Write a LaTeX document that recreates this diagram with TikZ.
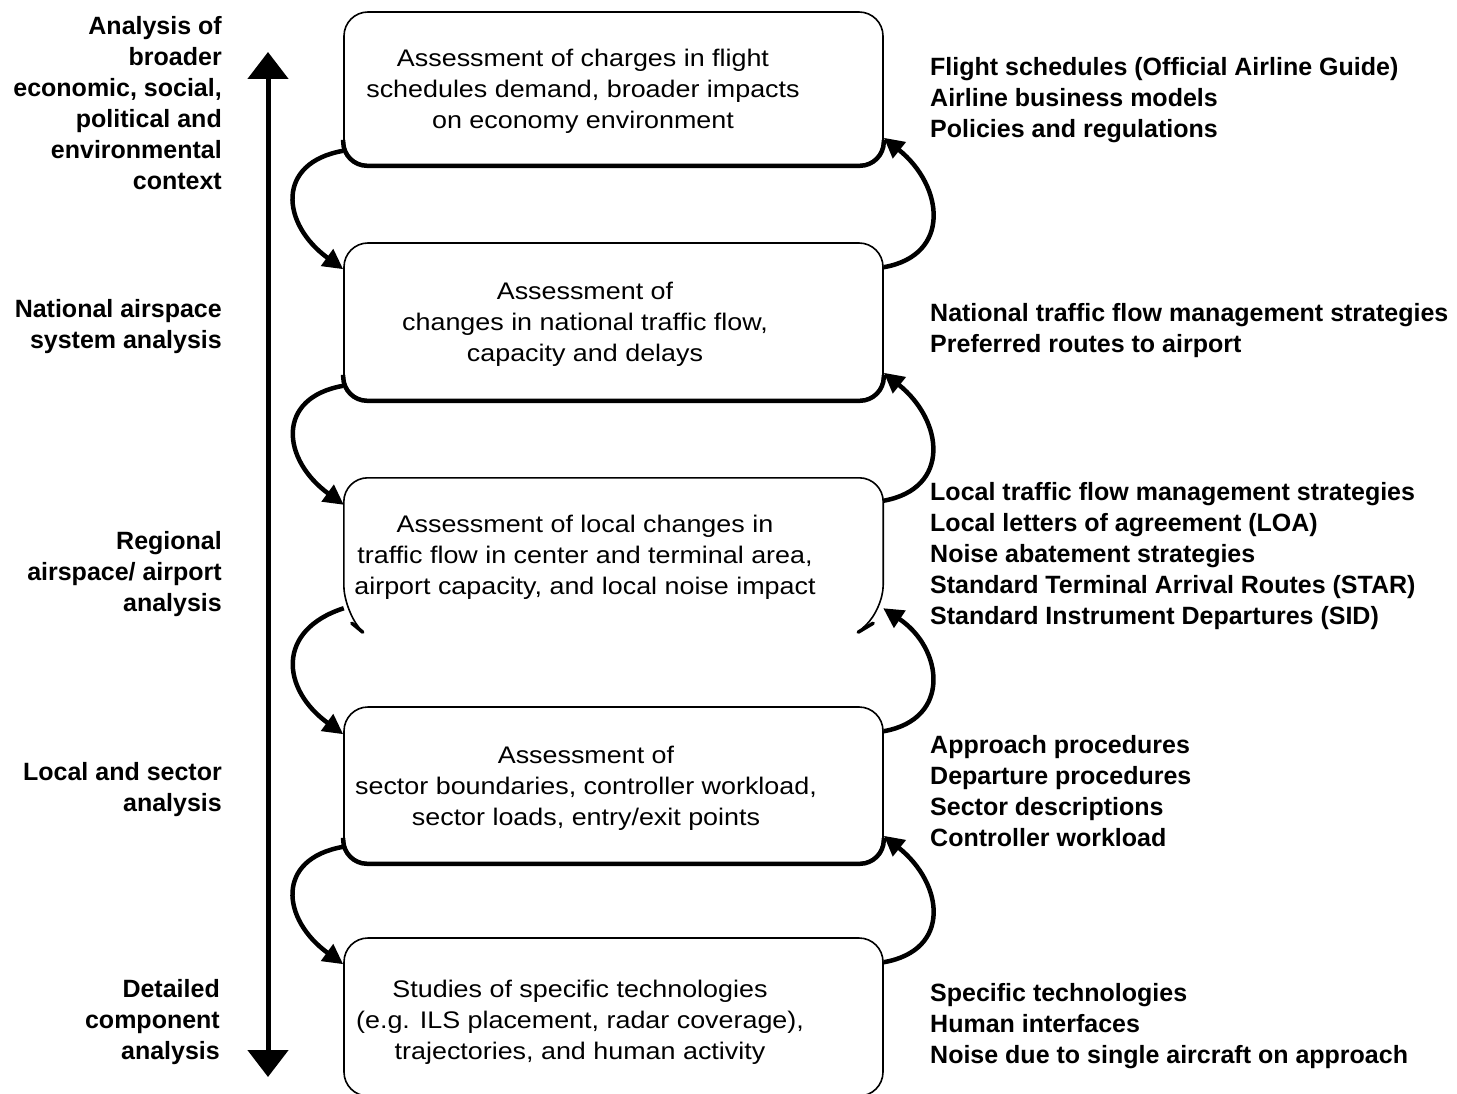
\documentclass[tikz,border=0pt]{standalone}
\usepackage{fontspec}
\setmainfont{Liberation Sans}
\newfontfamily\boxfont[FakeStretch=1.12]{Liberation Sans}
\usetikzlibrary{arrows.meta,calc}
\begin{document}
\begin{tikzpicture}[x=1pt,y=1pt,
  stagebox/.style={minimum width=539pt, inner sep=0pt},
  framed/.style={stagebox, draw, line width=1.6pt, rounded corners=24pt},
  outline/.style={line width=1.6pt, rounded corners=24pt},
  heavyedge/.style={line width=4.5pt, rounded corners=24pt},
  stagetext/.style={align=center, inner sep=0pt, font=\boxfont\fontsize{24}{31}\selectfont},
  scaletext/.style={align=right, inner sep=0pt, anchor=east, font=\bfseries\fontsize{25}{31}\selectfont},
  datatext/.style={align=left, inner sep=0pt, anchor=west, font=\bfseries\fontsize{25}{31}\selectfont},
  feedback/.style={line width=4.5pt, -{Triangle[length=20pt,width=20pt]}},
  scaleaxis/.style={line width=5pt, {Triangle[length=27pt,width=40pt]}-{Triangle[length=27pt,width=40pt]}}
]
\useasboundingbox (0,0) rectangle (1457,-1094);

% stage boxes
\node[framed, minimum height=153pt] (b1) at (613.5,-88.5) {};
\node[framed, minimum height=157pt] (b2) at (613.5,-321.5) {};
\node[stagebox, minimum height=155pt] (b3) at (613.5,-555.5) {};
\node[framed, minimum height=156pt] (b4) at (613.5,-785) {};
\node[framed, minimum height=158pt] (b5) at (613.5,-1017) {};

% the third box is left open at the bottom
\draw[outline] ([xshift=19pt,yshift=1pt]b3.south west) -- ([yshift=24pt]b3.south west)
  |- (b3.north) -| ([yshift=24pt]b3.south east) -- ([xshift=-25pt,yshift=1pt]b3.south east);
\draw[line width=3.5pt, line cap=round] ([xshift=19pt,yshift=1pt]b3.south west) -- ([xshift=8pt,yshift=10pt]b3.south west);
\draw[line width=3.5pt, line cap=round] ([xshift=-25pt,yshift=1pt]b3.south east) -- ([xshift=-10pt,yshift=10pt]b3.south east);

% heavier bottom edges
\foreach \b in {b1,b2,b4}
  \draw[heavyedge] ([yshift=26pt]\b.south west) |- (\b.south east) -- ([yshift=26pt]\b.south east);

% box texts
\node[stagetext] (t1) at (583,-91) {Assessment of charges in flight\\schedules demand, broader impacts\\on economy environment};
\node[stagetext] (t2) at (585,-324) {Assessment of\\changes in national traffic flow,\\capacity and delays};
\node[stagetext] (t3) at (585,-557) {Assessment of local changes in\\traffic flow in center and terminal area,\\airport capacity, and local noise impact};
\node[stagetext] (t4) at (586,-788) {Assessment of\\sector boundaries, controller workload,\\sector loads, entry/exit points};
\node[stagetext] (t5) at (580,-1022) {Studies of specific technologies\\(e.g. ILS placement, radar coverage),\\trajectories, and human activity};

% analysis scale
\coordinate (axtop) at (268,-52);
\coordinate (axbot) at (268,-1077);
\draw[scaleaxis] (axtop) -- (axbot);

\node[scaletext] (s1) at (222,-103.5) {Analysis of\\broader\\economic, social,\\political and\\environmental\\context};
\node[scaletext] (s2) at (222,-327) {National airspace\\system analysis};
\node[scaletext] (s3) at (222,-574) {Regional\\airspace/ airport\\analysis};
\node[scaletext] (s4) at (222,-790) {Local and sector\\analysis};
\node[scaletext] (s5) at (220,-1022) {Detailed\\component\\analysis};

% data sources
\node[datatext] (d1) at (930,-100) {Flight schedules (Official Airline Guide)\\Airline business models\\Policies and regulations};
\node[datatext] (d2) at (930,-331) {National traffic flow management strategies\\Preferred routes to airport};
\node[datatext] (d3) at (930,-556) {Local traffic flow management strategies\\Local letters of agreement (LOA)\\Noise abatement strategies\\Standard Terminal Arrival Routes (STAR)\\Standard Instrument Departures (SID)};
\node[datatext] (d4) at (930,-791) {Approach procedures\\Departure procedures\\Sector descriptions\\Controller workload};
\node[datatext] (d5) at (930,-1026) {Specific technologies\\Human interfaces\\Noise due to single aircraft on approach};

% downward feedback on the left
\draw[feedback] ([yshift=15pt]b1.south west) .. controls +(-68,-12) and +(-62,45) .. ([yshift=-27pt]b2.north west);
\draw[feedback] ([yshift=15pt]b2.south west) .. controls +(-68,-12) and +(-62,45) .. ([yshift=-27pt]b3.north west);
\draw[feedback] ([yshift=25pt]b3.south west) .. controls +(-68,-22) and +(-62,45) .. ([yshift=-28pt]b4.north west);
\draw[feedback] ([yshift=17pt]b4.south west) .. controls +(-68,-12) and +(-62,45) .. ([yshift=-27pt]b5.north west);

% upward feedback on the right
\draw[feedback] ([yshift=-25pt]b2.north east) .. controls +(68,12) and +(60,-48) .. ([yshift=28pt]b1.south east);
\draw[feedback] ([yshift=-23pt]b3.north east) .. controls +(68,12) and +(60,-48) .. ([yshift=28pt]b2.south east);
\draw[feedback] ([yshift=-25pt]b4.north east) .. controls +(68,12) and +(60,-40) .. ([yshift=25pt]b3.south east);
\draw[feedback] ([yshift=-25pt]b5.north east) .. controls +(68,12) and +(60,-48) .. ([yshift=28pt]b4.south east);
\end{tikzpicture}
\end{document}
